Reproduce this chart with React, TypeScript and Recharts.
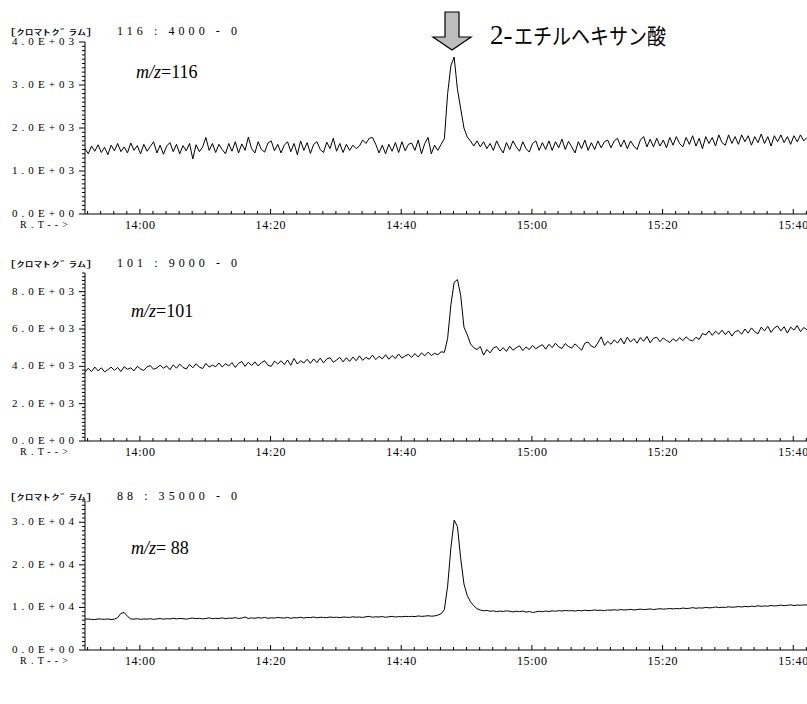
import React from 'react';
import { LineChart, Line, XAxis, YAxis } from 'recharts';

// sampling grid of the chromatograms (retention time in minutes from 0:00)
const SAMPLE_START = 831.6;
const SAMPLE_STEP = 0.5;

// m/z 116 (counts)
const MZ116 = [
  1520, 1400, 1580, 1460, 1610, 1430, 1550, 1380, 1600, 1470, 1640, 1450, 1560, 1420, 1650, 1480, 1590, 1400, 1620, 1460,
  1570, 1680, 1420, 1600, 1390, 1580, 1660, 1450, 1620, 1400, 1590, 1470, 1640, 1280, 1610, 1450, 1560, 1780, 1480, 1640,
  1430, 1620, 1500, 1400, 1640, 1460, 1680, 1420, 1630, 1480, 1790, 1520, 1420, 1680, 1500, 1440, 1650, 1700, 1470, 1620,
  1420, 1600, 1680, 1450, 1640, 1380, 1700, 1480, 1660, 1410, 1620, 1680, 1500, 1430, 1670, 1520, 1760, 1460, 1640, 1430,
  1620, 1480, 1600, 1520, 1580, 1720, 1640, 1760, 1780, 1620, 1420, 1600, 1400, 1620, 1460, 1660, 1430, 1680, 1470, 1620,
  1650, 1480, 1720, 1400, 1640, 1780, 1400, 1600, 1480, 1620, 1750, 2800, 3450, 3650, 2900, 2450, 2000, 1790, 1700, 1580,
  1700, 1560, 1680, 1520, 1640, 1480, 1700, 1540, 1420, 1660, 1500, 1700, 1560, 1460, 1680, 1520, 1440, 1640, 1700, 1480,
  1660, 1500, 1700, 1480, 1680, 1540, 1740, 1500, 1690, 1560, 1420, 1680, 1520, 1720, 1480, 1660, 1500, 1700, 1540, 1680,
  1720, 1540, 1700, 1760, 1560, 1720, 1520, 1700, 1580, 1500, 1720, 1800, 1560, 1740, 1560, 1760, 1580, 1720, 1540, 1780,
  1600, 1800, 1640, 1560, 1780, 1620, 1820, 1580, 1760, 1520, 1800, 1640, 1780, 1580, 1840, 1660, 1600, 1840, 1640, 1800,
  1620, 1840, 1680, 1820, 1600, 1800, 1660, 1860, 1640, 1800, 1580, 1820, 1680, 1840, 1660, 1800, 1620, 1820, 1680, 1840, 1700, 1780,
];

// m/z 101 (counts)
const MZ101 = [
  3700, 3900, 3720, 3960, 3760, 3920, 3700, 3820, 3960, 3780, 3940, 3720, 3980, 3840, 3920, 3760, 4000, 3860, 3780, 3980,
  4040, 3840, 3920, 4060, 3900, 4020, 3820, 4080, 3900, 4120, 3940, 3860, 4100, 3920, 4140, 3960, 3880, 4160, 3960, 4060,
  3980, 4180, 3960, 4140, 4020, 4200, 3940, 4160, 4260, 4000, 4220, 4040, 4240, 4020, 4200, 4300, 4060, 4000, 4280, 4120,
  4300, 4100, 4340, 4060, 4420, 4120, 4300, 4180, 4380, 4160, 4400, 4200, 4440, 4180, 4400, 4460, 4220, 4340, 4480, 4240,
  4460, 4260, 4500, 4300, 4560, 4320, 4480, 4380, 4600, 4360, 4540, 4400, 4620, 4380, 4580, 4420, 4660, 4440, 4560, 4640,
  4480, 4680, 4500, 4720, 4560, 4760, 4580, 4700, 4620, 4780, 4750, 5500, 7300, 8500, 8650, 7800, 6100, 5700, 5200, 5000,
  4900, 5060, 4600, 4900, 4720, 4980, 5060, 4820, 5000, 4800, 5080, 4860, 5000, 5100, 4840, 5040, 4900, 5120, 4940, 5060,
  5160, 4920, 5180, 5000, 5240, 5040, 4960, 5220, 5060, 4980, 5200, 5040, 4860, 5240, 5300, 5080, 5000, 5260, 5580, 5120,
  5340, 5180, 5420, 5240, 5500, 5200, 5560, 5300, 5480, 5240, 5540, 5340, 5600, 5260, 5500, 5560, 5320, 5520, 5380, 5280,
  5480, 5340, 5540, 5380, 5580, 5420, 5360, 5560, 5440, 5760, 5680, 5900, 5660, 5880, 5720, 5940, 5700, 5900, 5620, 5860,
  5920, 5720, 6000, 5780, 6060, 5860, 5740, 6100, 5900, 6140, 5820, 6060, 6160, 5900, 6120, 5780, 6100, 5940, 6180, 5860, 6080, 5960,
];

// m/z 88 (counts)
const MZ88 = [
  7300, 7250, 7200, 7150, 7300, 7250, 7200, 7300, 7150, 7250, 7600, 8600, 8800, 7900, 7300, 7250, 7350, 7200, 7300, 7250,
  7350, 7200, 7300, 7400, 7250, 7350, 7300, 7450, 7300, 7400, 7350, 7250, 7400, 7500, 7350, 7450, 7300, 7400, 7550, 7350,
  7450, 7400, 7550, 7350, 7500, 7450, 7600, 7400, 7500, 7750, 7400, 7550, 7450, 7600, 7500, 7650, 7450, 7550, 7500, 7650,
  7550, 7500, 7650, 7450, 7600, 7550, 7700, 7500, 7650, 7600, 7750, 7550, 7700, 7650, 7600, 7750, 7650, 7700, 7600, 7750,
  7700, 7650, 7800, 7700, 7750, 7650, 7800, 7900, 7700, 7800, 7750, 7850, 7700, 7800, 7900, 7750, 7850, 7800, 7900, 7850,
  7900, 7850, 8000, 7900, 7950, 8050, 7950, 8000, 8200, 8500, 9500, 15000, 24000, 30500, 29000, 21500, 15500, 12800, 11300, 10400,
  9700, 9400, 9200, 9300, 9100, 9200, 9000, 9150, 9050, 9200, 9100, 8950, 9100, 9000, 9150, 8900, 9050, 8800, 8950, 9100,
  9000, 9150, 9050, 9200, 9100, 9250, 9150, 9300, 9200, 9250, 9150, 9300, 9200, 9350, 9250, 9300, 9400, 9300, 9350, 9250,
  9400, 9350, 9450, 9350, 9500, 9400, 9450, 9550, 9400, 9500, 9600, 9500, 9550, 9650, 9500, 9600, 9700, 9600, 9650, 9750,
  9650, 9750, 9700, 9850, 9750, 9800, 9950, 9800, 9900, 9850, 10000, 9900, 9950, 10100, 9950, 10050, 10000, 10150, 10050, 10100,
  10200, 10100, 10250, 10150, 10300, 10200, 10400, 10250, 10350, 10300, 10450, 10350, 10400, 10550, 10400, 10500, 10600, 10450, 10550, 10500, 10600, 10550,
];

// x axis (retention time)
const X_DOMAIN: [number, number] = [831.6, 942.1];
const X_MAJOR = [840, 860, 880, 900, 920, 940];
const X_LABELS = ['14:00', '14:20', '14:40', '15:00', '15:20', '15:40'];
const X_MINOR_STEP = 2;

// y axes
const P1_MAX = 4000;
const P1_MAJOR = [0, 1000, 2000, 3000, 4000];
const P1_LABELS = ['0.0E+00', '1.0E+03', '2.0E+03', '3.0E+03', '4.0E+03'];
const P1_STEP = 100;

const P2_MAX = 9000;
const P2_MAJOR = [0, 2000, 4000, 6000, 8000];
const P2_LABELS = ['0.0E+00', '2.0E+03', '4.0E+03', '6.0E+03', '8.0E+03'];
const P2_STEP = 200;

const P3_MAX = 35000;
const P3_MAJOR = [0, 10000, 20000, 30000];
const P3_LABELS = ['0.0E+00', '1.0E+04', '2.0E+04', '3.0E+04'];
const P3_STEP = 1000;

const HEADERS = ['116 : 4000 - 0', '101 : 9000 - 0', '88 : 35000 - 0'];
const HEADER_PREFIX = '[ｸﾛﾏﾄｸﾞﾗﾑ]';
const MZ_NUMS = ['=116', '=101', '= 88'];
const TITLE_NUM = '2-';
const TITLE_JA = 'エチルヘキサン酸';

const SERIF = "'Liberation Serif', 'DejaVu Serif', serif";
const CJK = "'Noto Sans CJK JP', sans-serif";

function makeRange(from: number, to: number, step: number) {
  const out: number[] = [];
  for (let v = from; v <= to + 1e-9; v += step) out.push(Math.round(v * 1000) / 1000);
  return out;
}

function toRows(vals: number[]) {
  return vals.map((v, i) => ({ t: Math.round((SAMPLE_START + i * SAMPLE_STEP) * 100) / 100, v }));
}

const X_TICKS = makeRange(832, 942, X_MINOR_STEP);

const YTick = (props: any) => {
  const { x, y, payload, majors, labels } = props;
  const idx = majors.indexOf(payload.value);
  const major = idx >= 0;
  return (
    <g>
      <line x1={x - (major ? 6 : 3)} x2={x} y1={y} y2={y} stroke="#000" strokeWidth={1} />
      {major && (
        <text
          x={x - 11}
          y={y - 1}
          textAnchor="end"
          dominantBaseline="central"
          fontFamily={SERIF}
          fontSize={11}
          fill="#000"
          textLength={62}
          lengthAdjust="spacing"
        >
          {labels[idx]}
        </text>
      )}
    </g>
  );
};

const XTick = (props: any) => {
  const { x, y, payload } = props;
  const idx = X_MAJOR.indexOf(payload.value);
  const major = idx >= 0;
  return (
    <g>
      <line x1={x} x2={x} y1={y} y2={y - (major ? 5 : 3)} stroke="#000" strokeWidth={1} />
      {major && (
        <text
          x={x}
          y={y + 11}
          textAnchor="middle"
          dominantBaseline="central"
          fontFamily={SERIF}
          fontSize={12}
          fill="#000"
          textLength={30}
          lengthAdjust="spacing"
        >
          {X_LABELS[idx]}
        </text>
      )}
    </g>
  );
};

type PanelProps = {
  top: number;
  height: number;
  marginTop: number;
  values: number[];
  max: number;
  step: number;
  majors: number[];
  labels: string[];
};

const Panel = ({ top, height, marginTop, values, max, step, majors, labels }: PanelProps) => (
  <div style={{ position: 'absolute', left: 0, top, width: 807, height }}>
    <LineChart width={807} height={height} data={toRows(values)} margin={{ top: marginTop, right: 0, bottom: 0, left: 0 }}>
      <XAxis
        dataKey="t"
        type="number"
        domain={X_DOMAIN}
        allowDataOverflow
        ticks={X_TICKS}
        interval={0}
        tickLine={false}
        tickSize={0}
        tickMargin={0}
        height={20}
        axisLine={{ stroke: '#000', strokeWidth: 1 }}
        tick={(p: any) => <XTick {...p} />}
      />
      <YAxis
        type="number"
        domain={[0, max]}
        allowDataOverflow
        ticks={makeRange(0, max, step)}
        interval={0}
        tickLine={false}
        tickSize={0}
        tickMargin={0}
        width={85}
        axisLine={{ stroke: '#000', strokeWidth: 1 }}
        tick={(p: any) => <YTick {...p} majors={majors} labels={labels} />}
      />
      <Line type="linear" dataKey="v" stroke="#000" strokeWidth={1} dot={false} isAnimationActive={false} />
    </LineChart>
  </div>
);

const HEADER_Y = [31, 263, 496];
const AXIS_Y = [214, 441, 650];
const MZ_POS = [
  { x: 136, y: 78 },
  { x: 131, y: 317 },
  { x: 131, y: 554 },
];

export default function App() {
  return (
    <div style={{ position: 'absolute', left: 0, top: 0, width: 807, height: 704, background: '#fff', overflow: 'hidden' }}>
      <Panel top={0} height={234} marginTop={42} values={MZ116} max={P1_MAX} step={P1_STEP} majors={P1_MAJOR} labels={P1_LABELS} />
      <Panel top={240} height={221} marginTop={33} values={MZ101} max={P2_MAX} step={P2_STEP} majors={P2_MAJOR} labels={P2_LABELS} />
      <Panel top={470} height={200} marginTop={31} values={MZ88} max={P3_MAX} step={P3_STEP} majors={P3_MAJOR} labels={P3_LABELS} />
      <svg width={807} height={704} style={{ position: 'absolute', left: 0, top: 0, pointerEvents: 'none' }}>
        <polygon
          points="445,12 459,12 459,37 471,37 452,50 433,37 445,37"
          fill="#bdbdbd"
          stroke="#000"
          strokeWidth={1.2}
        />
        <text x={490} y={44} fontFamily={SERIF} fontSize={27} fill="#000">
          {TITLE_NUM}
        </text>
        <text x={514} y={44} fontFamily={CJK} fontSize={22} fill="#000" textLength={152} lengthAdjust="spacingAndGlyphs">
          {TITLE_JA}
        </text>
        {HEADERS.map((h, i) => (
          <g key={h}>
            <text x={10} y={HEADER_Y[i]} dominantBaseline="central" fontFamily={CJK} fontSize={8.5} fill="#000" textLength={82} lengthAdjust="spacingAndGlyphs">
              {HEADER_PREFIX}
            </text>
            <text x={117} y={HEADER_Y[i]} dominantBaseline="central" fontFamily={SERIF} fontSize={12} fill="#000" textLength={120} lengthAdjust="spacing">
              {h}
            </text>
          </g>
        ))}
        {AXIS_Y.map((y, i) => (
          <text key={i} x={20} y={y + 10} dominantBaseline="central" fontFamily={SERIF} fontSize={10} fill="#000" textLength={48} lengthAdjust="spacing">
            R.T--&gt;
          </text>
        ))}
        {MZ_NUMS.map((n, i) => (
          <text key={n} x={MZ_POS[i].x} y={MZ_POS[i].y} fontFamily={SERIF} fontSize={18} fill="#000">
            <tspan fontStyle="italic">m/z</tspan>
            {n}
          </text>
        ))}
      </svg>
    </div>
  );
}
